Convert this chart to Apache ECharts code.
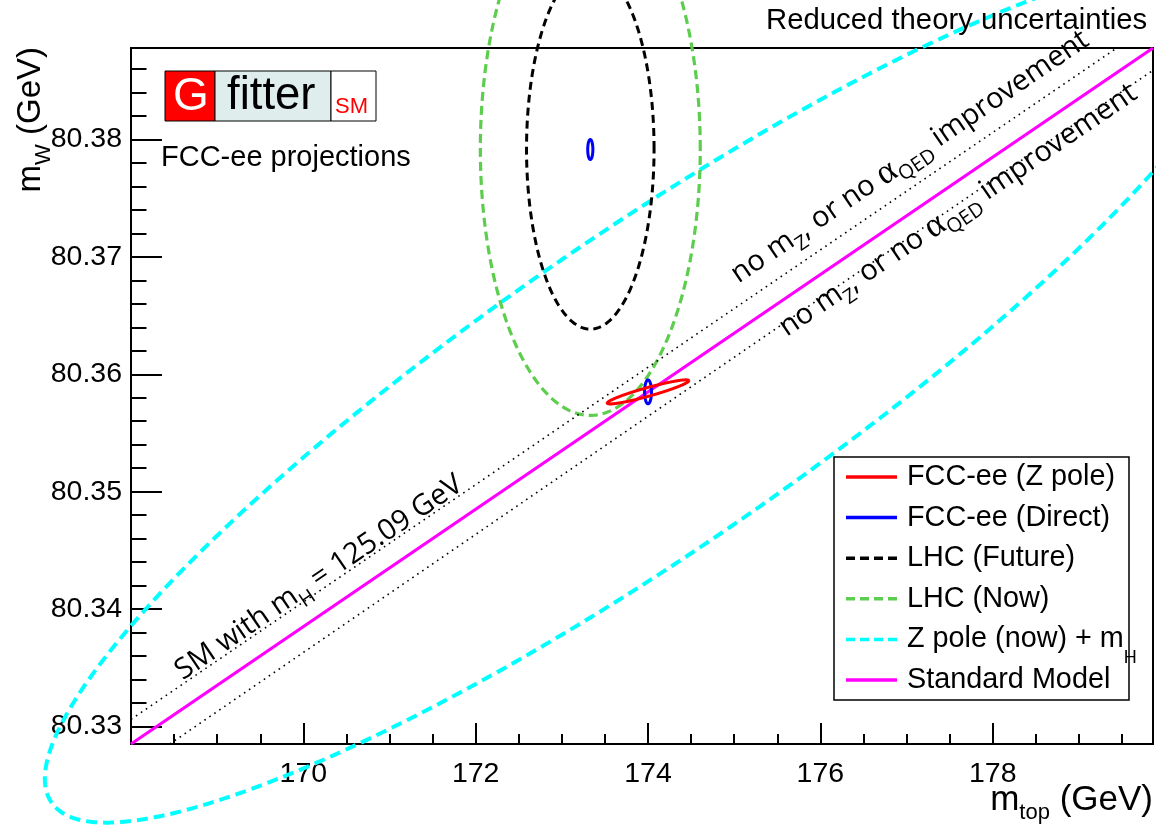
<!DOCTYPE html>
<html>
<head>
<meta charset="utf-8">
<script src="https://cdn.jsdelivr.net/npm/echarts@6/dist/echarts.min.js"></script>
<style>
  html, body { margin: 0; padding: 0; background: #ffffff; }
  #chart { width: 1156px; height: 825px; }
</style>
</head>
<body>
<div id="chart"></div>
<script>
// Axis ranges (m_top in GeV, m_W in GeV)
const xRange = [168, 179.86];
const yRange = [80.3285, 80.3878];

// Tick positions
const xMajorTicks = [170, 172, 174, 176, 178];
const xMinorTicks = [168.5, 169, 169.5, 170.5, 171, 171.5, 172.5, 173, 173.5,
  174.5, 175, 175.5, 176.5, 177, 177.5, 178.5, 179, 179.5];
const yMajorTicks = [80.33, 80.34, 80.35, 80.36, 80.37, 80.38];
const yMinorTicks = [80.332, 80.334, 80.336, 80.338, 80.342, 80.344, 80.346, 80.348,
  80.352, 80.354, 80.356, 80.358, 80.362, 80.364, 80.366, 80.368,
  80.372, 80.374, 80.376, 80.378, 80.382, 80.384, 80.386];

// Contours: [centre m_top, centre m_W, half-width in m_top, half-height in m_W, correlation]
const zPoleNowMH = [[174.0, 80.3585, 7.0, 0.0367, 0.898]];
const lhcNow = [[173.33, 80.3792, 1.276, 0.0227, 0]];
const lhcFuture = [[173.33, 80.3792, 0.74, 0.01535, 0]];
const fccDirect = [[173.33, 80.37915, 0.03, 0.00085, 0], [174.0, 80.3585, 0.04, 0.00102, 0]];
const fccZPole = [[174.0, 80.3585, 0.473, 0.001026, 0.9285]];

// Standard Model prediction and its theory band edges
const smLine = [[168, 80.3285], [179.86, 80.3878]];
const smBandUpper = [[168, 80.3306], [179.44, 80.3878]];
const smBandLower = [[168.45, 80.3285], [179.86, 80.3859]];

// Labels written along the SM line (baseline start points)
const annoTexts = [
  'SM with m{sub|H} = 125.09 GeV',
  'no m{sub|Z}, or no {al|α}{sub|QED} improvement',
  'no m{sub|Z}, or no {al|α}{sub|QED} improvement'
];
const annoAnchors = [[168.62, 80.3337], [175.07, 80.3675], [175.63, 80.36296]];

// Legend
const legendLabels = ['FCC-ee (Z pole)', 'FCC-ee (Direct)', 'LHC (Future)',
  'LHC (Now)', 'Z pole (now) + m{sub|H}', 'Standard Model'];
const legendColors = ['#ff0000', '#0000ff', '#000000', '#5ccd4c', '#00ffff', '#ff00ff'];
const legendDashed = [false, false, true, true, true, false];

const FONT = 'Liberation Sans';

function contourSeries(name, data, color, width, dash, z) {
  return {
    type: 'custom',
    name: name,
    data: data,
    z: z,
    clip: false,
    silent: true,
    encode: { x: 0, y: 1 },
    renderItem: function (params, api) {
      const cx = api.value(0), cy = api.value(1);
      const sx = api.value(2), sy = api.value(3), r = api.value(4);
      const q = Math.sqrt(1 - r * r);
      const pts = [];
      const n = 400;
      for (let i = 0; i <= n; i++) {
        const t = (i / n) * 2 * Math.PI;
        pts.push(api.coord([cx + sx * Math.cos(t),
                            cy + sy * (r * Math.cos(t) + q * Math.sin(t))]));
      }
      return {
        type: 'polyline',
        shape: { points: pts },
        style: { fill: null, stroke: color, lineWidth: width, lineDash: dash, lineCap: 'butt' }
      };
    }
  };
}

function straightSeries(name, data, color, width, dash, z) {
  return {
    type: 'line',
    name: name,
    data: data,
    z: z,
    symbol: 'none',
    silent: true,
    lineStyle: { color: color, width: width, type: dash || 'solid', cap: 'butt' }
  };
}

const ANNO_SIZE = 29;
const annoRich = {
  sub: { fontFamily: 'Open Sans', fontSize: 20, lineHeight: 20, verticalAlign: 'bottom' },
  al: { fontFamily: 'Liberation Serif', fontSize: 35, lineHeight: 42, verticalAlign: 'middle' }
};

const annotationSeries = {
  type: 'custom',
  name: 'annotations',
  data: annoAnchors.map(function (p, i) { return [p[0], p[1], i]; }),
  z: 20,
  clip: false,
  silent: true,
  encode: { x: 0, y: 1 },
  renderItem: function (params, api) {
    const p = api.coord([api.value(0), api.value(1)]);
    const a = api.coord(smLine[0]);
    const b = api.coord(smLine[1]);
    const rot = Math.atan2(a[1] - b[1], b[0] - a[0]);
    return {
      type: 'text',
      x: p[0],
      y: p[1],
      rotation: rot,
      style: {
        text: annoTexts[api.value(2)],
        x: 0,
        y: -(21 + 0.388 * ANNO_SIZE),
        fontFamily: 'Open Sans',
        fontSize: ANNO_SIZE,
        lineHeight: 42,
        fill: '#000',
        align: 'left',
        verticalAlign: 'top',
        rich: annoRich
      }
    };
  }
};

// Legend drawn as a framed box
const legendTop = 457, legendRow = 40.6, legendFirst = 477;
const legendGraphics = [{
  type: 'rect', z: 100,
  shape: { x: 834, y: legendTop, width: 295, height: 243 },
  style: { fill: '#ffffff', stroke: '#000000', lineWidth: 1.5 }
}];
legendLabels.forEach(function (label, i) {
  const y = legendFirst + i * legendRow;
  legendGraphics.push({
    type: 'line', z: 101,
    shape: { x1: 846, y1: y, x2: 897, y2: y },
    style: { stroke: legendColors[i], lineWidth: 3.5, lineDash: legendDashed[i] ? [9, 5] : null }
  });
  legendGraphics.push({
    type: 'text', z: 101,
    x: 907, y: y,
    style: {
      text: label, fontFamily: FONT, fontSize: 28.8, lineHeight: 56, fill: '#000',
      align: 'left', verticalAlign: 'middle',
      rich: { sub: { fontFamily: FONT, fontSize: 18, lineHeight: 18, verticalAlign: 'bottom' } }
    }
  });
});

// Gfitter logo
const logoGraphics = [
  { type: 'rect', z: 100, shape: { x: 165, y: 71, width: 50, height: 50 }, style: { fill: '#ff0000', stroke: '#000', lineWidth: 1 } },
  { type: 'rect', z: 100, shape: { x: 215, y: 71, width: 116, height: 50 }, style: { fill: '#dfeded', stroke: '#000', lineWidth: 1 } },
  { type: 'rect', z: 100, shape: { x: 331, y: 71, width: 45, height: 50 }, style: { fill: '#ffffff', stroke: '#000', lineWidth: 1 } },
  { type: 'text', z: 101, x: 191, y: 97, style: { text: 'G', fontFamily: FONT, fontSize: 46, fill: '#ffffff', align: 'center', verticalAlign: 'middle' } },
  { type: 'text', z: 101, x: 227, y: 96, style: { text: 'fitter', fontFamily: FONT, fontSize: 45.5, fill: '#000000', align: 'left', verticalAlign: 'middle' } },
  { type: 'text', z: 101, x: 335, y: 107, style: { text: 'SM', fontFamily: FONT, fontSize: 22, fill: '#ff0000', align: 'left', verticalAlign: 'middle' } }
];

// Titles and captions
const textGraphics = [
  { type: 'text', z: 101, x: 766, y: 21, style: { text: 'Reduced theory uncertainties', fontFamily: FONT, fontSize: 29.3, fill: '#000', align: 'left', verticalAlign: 'middle' } },
  { type: 'text', z: 101, x: 161, y: 158, style: { text: 'FCC-ee projections', fontFamily: FONT, fontSize: 29, fill: '#000', align: 'left', verticalAlign: 'middle' } },
  { type: 'text', z: 101, x: 1153, y: 800, style: {
      text: 'm{sub|top} (GeV)', fontFamily: FONT, fontSize: 35, lineHeight: 48, fill: '#000',
      align: 'right', verticalAlign: 'middle',
      rich: { sub: { fontFamily: FONT, fontSize: 22, lineHeight: 22, verticalAlign: 'bottom' } } } },
  { type: 'text', z: 101, x: 31, y: 47, rotation: Math.PI / 2, style: {
      text: 'm{sub|W} (GeV)', fontFamily: FONT, fontSize: 33, lineHeight: 48, fill: '#000',
      align: 'right', verticalAlign: 'middle',
      rich: { sub: { fontFamily: FONT, fontSize: 22, lineHeight: 22, verticalAlign: 'bottom' } } } }
];

const chart = echarts.init(document.getElementById('chart'), null, { renderer: 'canvas' });

const option = {
  animation: false,
  backgroundColor: '#ffffff',
  textStyle: { fontFamily: FONT },
  grid: {
    left: 131, top: 48, width: 1022, height: 696,
    show: true, borderColor: '#000000', borderWidth: 2, backgroundColor: 'transparent'
  },
  xAxis: [{
    type: 'value', min: xRange[0], max: xRange[1],
    axisLine: { show: true, lineStyle: { color: '#000', width: 2 } },
    axisTick: { show: true, inside: true, length: 21, customValues: xMajorTicks, lineStyle: { color: '#000', width: 2 } },
    axisLabel: { show: true, customValues: xMajorTicks, fontSize: 28.5, color: '#000', margin: 16, fontFamily: FONT },
    splitLine: { show: false }
  }, {
    type: 'value', min: xRange[0], max: xRange[1], position: 'bottom',
    axisLine: { show: false },
    axisTick: { show: true, inside: true, length: 10, customValues: xMinorTicks, lineStyle: { color: '#000', width: 2 } },
    axisLabel: { show: false },
    splitLine: { show: false }
  }],
  yAxis: [{
    type: 'value', min: yRange[0], max: yRange[1],
    axisLine: { show: true, lineStyle: { color: '#000', width: 2 } },
    axisTick: { show: true, inside: true, length: 31, customValues: yMajorTicks, lineStyle: { color: '#000', width: 2 } },
    axisLabel: {
      show: true, customValues: yMajorTicks, fontSize: 28.5, color: '#000', margin: 9, fontFamily: FONT,
      formatter: function (v) { return v.toFixed(2); }
    },
    splitLine: { show: false }
  }, {
    type: 'value', min: yRange[0], max: yRange[1], position: 'left',
    axisLine: { show: false },
    axisTick: { show: true, inside: true, length: 15.5, customValues: yMinorTicks, lineStyle: { color: '#000', width: 2 } },
    axisLabel: { show: false },
    splitLine: { show: false }
  }],
  series: [
    contourSeries('Z pole (now) + mH', zPoleNowMH, '#00ffff', 4, [11, 6], 2),
    contourSeries('LHC (Now)', lhcNow, '#5ccd4c', 3.2, [9, 5], 3),
    contourSeries('LHC (Future)', lhcFuture, '#000000', 3, [8, 5], 4),
    straightSeries('SM band upper', smBandUpper, '#000000', 1.6, [1.6, 4.4], 5),
    straightSeries('SM band lower', smBandLower, '#000000', 1.6, [1.6, 4.4], 5),
    straightSeries('Standard Model', smLine, '#ff00ff', 3.2, null, 6),
    contourSeries('FCC-ee (Direct)', fccDirect, '#0000ff', 3, null, 7),
    contourSeries('FCC-ee (Z pole)', fccZPole, '#ff0000', 3, null, 8),
    annotationSeries
  ],
  graphic: { elements: logoGraphics.concat(textGraphics, legendGraphics) }
};

chart.setOption(option);
</script>
</body>
</html>
